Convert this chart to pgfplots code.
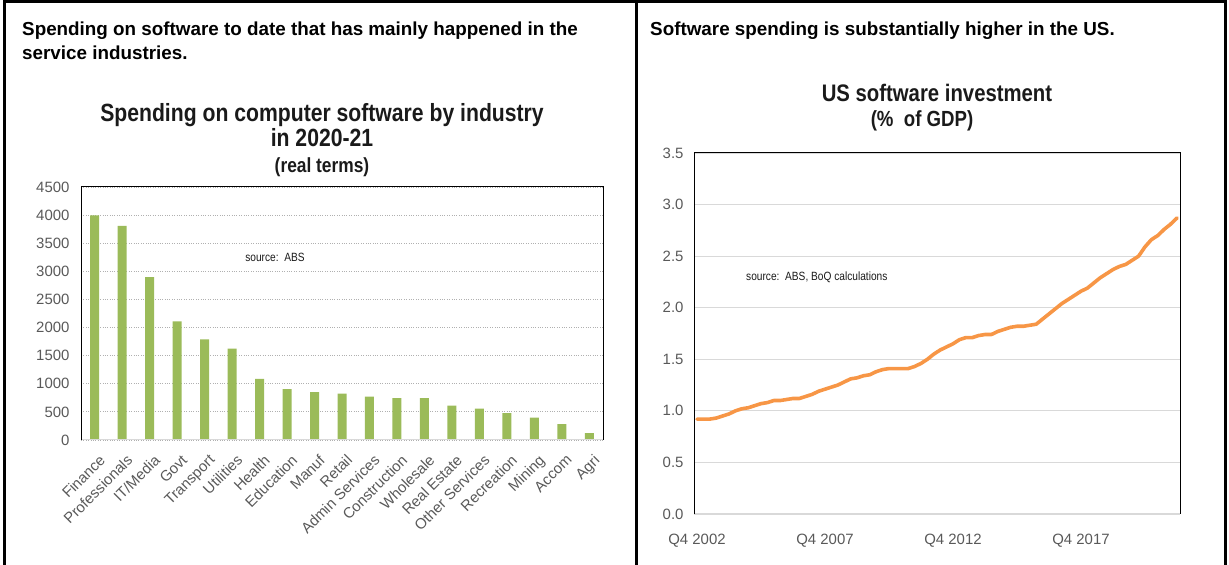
\documentclass[border=0pt]{standalone}
\usepackage{fontspec}
\setmainfont{Liberation Sans}
\newfontfamily\titlefont[FakeStretch=0.85]{Liberation Sans}
\usepackage{pgfplots}
\pgfplotsset{compat=1.18}
\definecolor{bargreen}{HTML}{9BBB59}
\definecolor{lineorange}{HTML}{F79646}
\definecolor{ticktext}{HTML}{595959}
\definecolor{gridgray}{HTML}{D9D9D9}
\definecolor{dotgray}{HTML}{B0B0B0}
\definecolor{titletext}{HTML}{1A1A1A}

\pgfplotstableread{
j v
0 0.92
1 0.92
2 0.92
3 0.93
4 0.95
5 0.97
6 1.00
7 1.02
8 1.03
9 1.05
10 1.07
11 1.08
12 1.10
13 1.10
14 1.11
15 1.12
16 1.12
17 1.14
18 1.16
19 1.19
20 1.21
21 1.23
22 1.25
23 1.28
24 1.31
25 1.32
26 1.34
27 1.35
28 1.38
29 1.40
30 1.41
31 1.41
32 1.41
33 1.41
34 1.43
35 1.46
36 1.50
37 1.55
38 1.59
39 1.62
40 1.65
41 1.69
42 1.71
43 1.71
44 1.73
45 1.74
46 1.74
47 1.77
48 1.79
49 1.81
50 1.82
51 1.82
52 1.83
53 1.84
54 1.89
55 1.94
56 1.99
57 2.04
58 2.08
59 2.12
60 2.16
61 2.19
62 2.24
63 2.29
64 2.33
65 2.37
66 2.40
67 2.42
68 2.46
69 2.50
70 2.59
71 2.66
72 2.70
73 2.76
74 2.81
75 2.87
}\ussoftware

\begin{document}
\begin{tikzpicture}[x=1bp,y=1bp]
\useasboundingbox (0,0) rectangle (1229,565);
% outer frame
\draw[line width=3bp] (4,0) -- (4,563.5) -- (1225.5,563.5) -- (1225.5,0);
\draw[line width=3bp] (636,0) -- (636,563.5);

% headings
\begin{scope}[every node/.style={anchor=base west, inner sep=0pt, font=\fontsize{18.9}{22}\selectfont\bfseries}]
\node at (22,529) {Spending on software to date that has mainly happened in the};
\node at (22,505) {service industries.};
\node at (650,529) {Software spending is substantially higher in the US.};
\end{scope}

% left chart titles
\node[anchor=base, inner sep=0pt, text=titletext, font=\titlefont\bfseries\fontsize{25}{28}\selectfont] at (322,443) {Spending on computer software by industry};
\node[anchor=base, inner sep=0pt, text=titletext, font=\titlefont\bfseries\fontsize{25}{28}\selectfont] at (322,418) {in 2020-21};
\node[anchor=base, inner sep=0pt, text=titletext, font=\titlefont\bfseries\fontsize{20.5}{24}\selectfont] at (322,392) {(real terms)};

% right chart titles
\node[anchor=base, inner sep=0pt, text=titletext, font=\titlefont\bfseries\fontsize{24}{28}\selectfont] at (937,463.5) {US software investment};
\node[anchor=base, inner sep=0pt, text=titletext, font=\titlefont\bfseries\fontsize{22}{26}\selectfont] at (922,438) {(\%\ \ of GDP)};

% left axis
\begin{axis}[
  at={(81bp,125bp)}, anchor=south west, scale only axis,
  width=522bp, height=253bp,
  xmin=-0.5, xmax=18.5, ymin=0, ymax=4500,
  ytick={0,500,...,4500},
  xtick={0,...,18},
  xticklabels={Finance,Professionals,IT/Media,Govt,Transport,Utilities,Health,Education,Manuf,Retail,Admin Services,Construction,Wholesale,Real Estate,Other Services,Recreation,Mining,Accom,Agri},
  major tick length=0pt,
  ymajorgrids, grid style={dotgray, dotted, line width=0.8bp},
  axis line style={draw=none},
  ticklabel style={font=\fontsize{15}{18}\selectfont, text=ticktext},
  yticklabel style={xshift=-8bp},
  xticklabel style={rotate=45, anchor=north east, inner sep=0pt, xshift=-7bp, yshift=-12bp},
  /pgf/number format/assume math mode=true,
  /pgf/number format/1000 sep={},
  ybar, bar width=9bp,
  after end axis/.code={
    \draw[gridgray, line width=1bp] (rel axis cs:0,0) -- (rel axis cs:1,0);
    \draw[black, line width=1bp] (rel axis cs:0,0) -- (rel axis cs:0,1) -- (rel axis cs:1,1) -- (rel axis cs:1,0);
  },
]
\addplot[fill=bargreen, draw=none] coordinates {
(0,3997) (1,3808) (2,2895) (3,2108) (4,1788) (5,1623) (6,1089) (7,906) (8,853) (9,823)
(10,770) (11,746) (12,746) (13,610) (14,557) (15,480) (16,397) (17,284) (18,124)};
\end{axis}
\node[anchor=center, inner sep=0pt, text=titletext, font=\titlefont\fontsize{12}{14}\selectfont] at (275,308) {source:\ \ ABS};

% right axis
\begin{axis}[
  at={(694bp,51bp)}, anchor=south west, scale only axis,
  width=486bp, height=361bp,
  xmin=-0.47, xmax=75.47, ymin=0, ymax=3.5,
  ytick={0,0.5,...,3.5},
  xtick={0,20,40,60},
  xticklabels={Q4 2002,Q4 2007,Q4 2012,Q4 2017},
  major tick length=0pt,
  ymajorgrids, grid style={gridgray, line width=1.2bp},
  axis line style={draw=none},
  ticklabel style={font=\fontsize{15}{18}\selectfont, text=ticktext},
  yticklabel style={xshift=-7bp},
  xticklabel style={anchor=north, inner sep=0pt, yshift=-20bp},
  /pgf/number format/assume math mode=true,
  /pgf/number format/.cd, fixed, fixed zerofill, precision=1,
  /tikz/.cd,
  after end axis/.code={
    \draw[gridgray, line width=1.2bp] (rel axis cs:0,0) -- (rel axis cs:1,0);
    \draw[black, line width=1bp] (rel axis cs:0,0) -- (rel axis cs:0,1) -- (rel axis cs:1,1) -- (rel axis cs:1,0);
  },
]
\addplot[lineorange, line width=3.6bp, line join=round, line cap=round] table[x=j, y=v] {\ussoftware};
\end{axis}
\node[anchor=west, inner sep=0pt, text=titletext, font=\titlefont\fontsize{12}{14}\selectfont] at (746,288) {source:\ \ ABS, BoQ calculations};
\end{tikzpicture}
\end{document}
